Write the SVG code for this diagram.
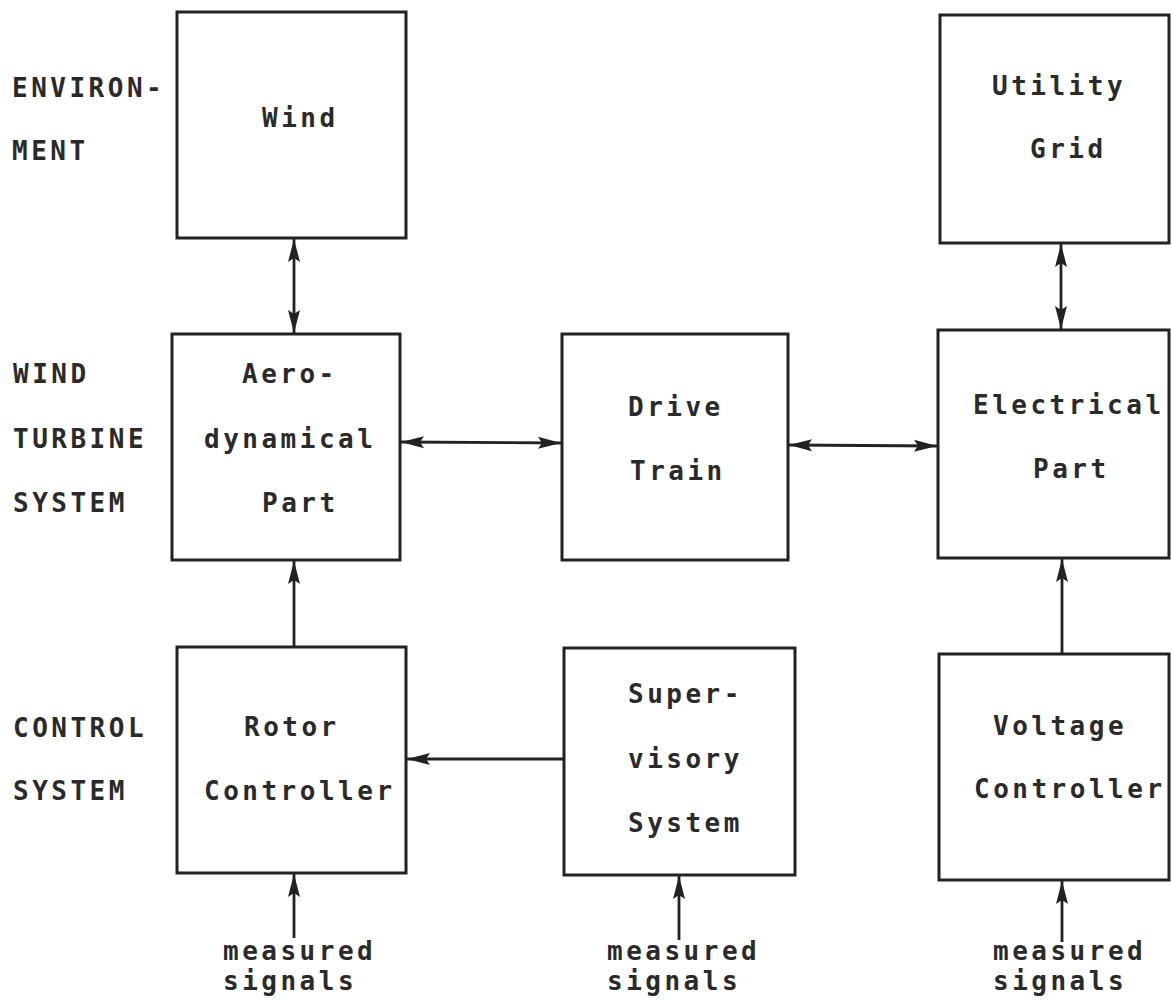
<svg xmlns="http://www.w3.org/2000/svg" width="1172" height="1000" viewBox="0 0 1172 1000">
<style>
  .box { fill: #fff; stroke: #222; stroke-width: 3; }
  .t { font-family: "DejaVu Sans Mono", "Liberation Mono", monospace; font-weight: bold; font-size: 26px; letter-spacing: 3.5px; fill: #2a2a2a; }
  .c { stroke: #222; stroke-width: 2.8; fill: none; }
  .ar { marker-end: url(#ah); }
  .bi { marker-start: url(#ah); marker-end: url(#ah); }
</style>
<defs>
  <marker id="ah" markerUnits="userSpaceOnUse" markerWidth="24" markerHeight="16" viewBox="0 0 24 16" refX="23" refY="8" orient="auto-start-reverse">
    <path d="M0,2 L23,8 L0,14 L4,8 z" fill="#222"/>
  </marker>
</defs>
<rect width="1172" height="1000" fill="#fff"/>

<g id="row-labels">
  <text class="t" x="12" y="97">ENVIRON-</text>
  <text class="t" x="12" y="160">MENT</text>
  <text class="t" x="13" y="383">WIND</text>
  <text class="t" x="13" y="448">TURBINE</text>
  <text class="t" x="13" y="512">SYSTEM</text>
  <text class="t" x="13" y="737">CONTROL</text>
  <text class="t" x="13" y="800">SYSTEM</text>
</g>

<g id="connectors">
  <line class="c bi" x1="294" y1="239" x2="294" y2="333"/>
  <line class="c bi" x1="401" y1="442" x2="561" y2="443"/>
  <line class="c bi" x1="789" y1="445" x2="937" y2="446"/>
  <line class="c bi" x1="1061" y1="244" x2="1061" y2="329"/>
  <line class="c ar" x1="294" y1="647" x2="294" y2="561"/>
  <line class="c ar" x1="564" y1="759" x2="407" y2="759"/>
  <line class="c ar" x1="1062" y1="654" x2="1062" y2="559"/>
  <line class="c ar" x1="294" y1="938" x2="294" y2="874"/>
  <line class="c ar" x1="679" y1="940" x2="679" y2="876"/>
  <line class="c ar" x1="1062" y1="942" x2="1062" y2="881"/>
</g>

<g id="wind">
  <rect class="box" x="177" y="12" width="229" height="226"/>
  <text class="t" x="262" y="127">Wind</text>
</g>
<g id="utility-grid">
  <rect class="box" x="940" y="15" width="229" height="228"/>
  <text class="t" x="992" y="95">Utility</text>
  <text class="t" x="1030" y="158">Grid</text>
</g>
<g id="aerodynamical-part">
  <rect class="box" x="172" y="334" width="228" height="226"/>
  <text class="t" x="242" y="383">Aero-</text>
  <text class="t" x="204" y="448" letter-spacing="5">dynamical</text>
  <text class="t" x="262" y="512">Part</text>
</g>
<g id="drive-train">
  <rect class="box" x="562" y="334" width="226" height="226"/>
  <text class="t" x="628" y="416">Drive</text>
  <text class="t" x="630" y="480">Train</text>
</g>
<g id="electrical-part">
  <rect class="box" x="938" y="330" width="231" height="228"/>
  <text class="t" x="973" y="414">Electrical</text>
  <text class="t" x="1033" y="478">Part</text>
</g>
<g id="rotor-controller">
  <rect class="box" x="177" y="647" width="229" height="226"/>
  <text class="t" x="244" y="736">Rotor</text>
  <text class="t" x="204" y="800">Controller</text>
</g>
<g id="supervisory-system">
  <rect class="box" x="564" y="648" width="231" height="227"/>
  <text class="t" x="628" y="703">Super-</text>
  <text class="t" x="628" y="768">visory</text>
  <text class="t" x="628" y="832">System</text>
</g>
<g id="voltage-controller">
  <rect class="box" x="939" y="654" width="230" height="226"/>
  <text class="t" x="993" y="735">Voltage</text>
  <text class="t" x="974" y="798">Controller</text>
</g>

<g id="measured-labels">
  <text class="t" x="223" y="960">measured</text>
  <text class="t" x="223" y="990">signals</text>
  <text class="t" x="607" y="960">measured</text>
  <text class="t" x="607" y="990">signals</text>
  <text class="t" x="993" y="960">measured</text>
  <text class="t" x="993" y="990">signals</text>
</g>
</svg>
